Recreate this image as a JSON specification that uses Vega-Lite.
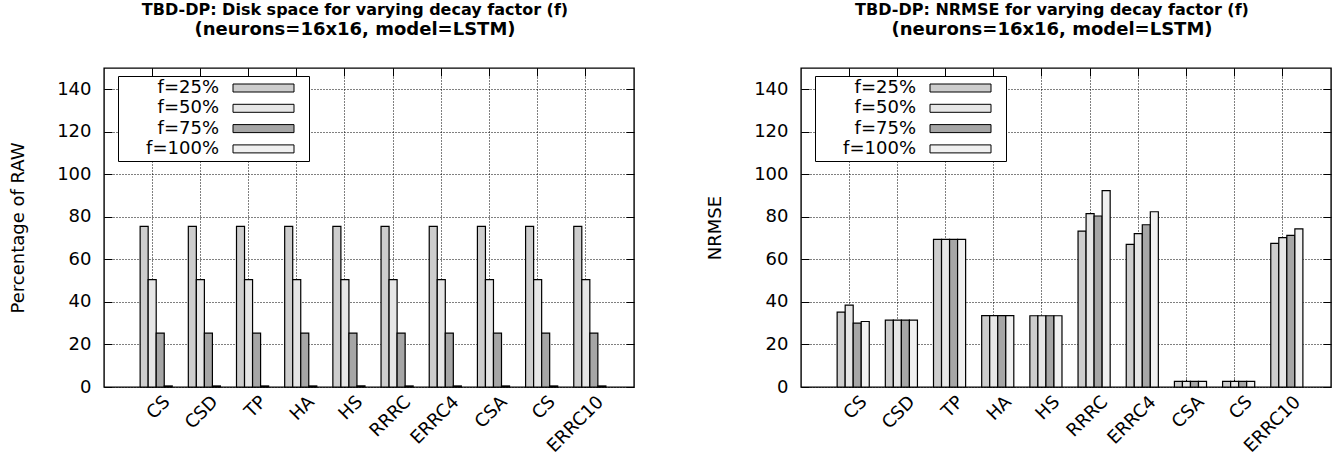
{
  "$schema": "https://vega.github.io/schema/vega-lite/v6.json",
  "padding": {"left": 8, "top": 0, "right": 5, "bottom": 5},
  "background": "white",
  "datasets": {
    "disk": [
      {"g": 0, "f": "f=25%", "v": 75.5}, {"g": 0, "f": "f=50%", "v": 50.5}, {"g": 0, "f": "f=75%", "v": 25.3}, {"g": 0, "f": "f=100%", "v": 0.5},
      {"g": 1, "f": "f=25%", "v": 75.5}, {"g": 1, "f": "f=50%", "v": 50.5}, {"g": 1, "f": "f=75%", "v": 25.3}, {"g": 1, "f": "f=100%", "v": 0.5},
      {"g": 2, "f": "f=25%", "v": 75.5}, {"g": 2, "f": "f=50%", "v": 50.5}, {"g": 2, "f": "f=75%", "v": 25.3}, {"g": 2, "f": "f=100%", "v": 0.5},
      {"g": 3, "f": "f=25%", "v": 75.5}, {"g": 3, "f": "f=50%", "v": 50.5}, {"g": 3, "f": "f=75%", "v": 25.3}, {"g": 3, "f": "f=100%", "v": 0.5},
      {"g": 4, "f": "f=25%", "v": 75.5}, {"g": 4, "f": "f=50%", "v": 50.5}, {"g": 4, "f": "f=75%", "v": 25.3}, {"g": 4, "f": "f=100%", "v": 0.5},
      {"g": 5, "f": "f=25%", "v": 75.5}, {"g": 5, "f": "f=50%", "v": 50.5}, {"g": 5, "f": "f=75%", "v": 25.3}, {"g": 5, "f": "f=100%", "v": 0.5},
      {"g": 6, "f": "f=25%", "v": 75.5}, {"g": 6, "f": "f=50%", "v": 50.5}, {"g": 6, "f": "f=75%", "v": 25.3}, {"g": 6, "f": "f=100%", "v": 0.5},
      {"g": 7, "f": "f=25%", "v": 75.5}, {"g": 7, "f": "f=50%", "v": 50.5}, {"g": 7, "f": "f=75%", "v": 25.3}, {"g": 7, "f": "f=100%", "v": 0.5},
      {"g": 8, "f": "f=25%", "v": 75.5}, {"g": 8, "f": "f=50%", "v": 50.5}, {"g": 8, "f": "f=75%", "v": 25.3}, {"g": 8, "f": "f=100%", "v": 0.5},
      {"g": 9, "f": "f=25%", "v": 75.5}, {"g": 9, "f": "f=50%", "v": 50.5}, {"g": 9, "f": "f=75%", "v": 25.3}, {"g": 9, "f": "f=100%", "v": 0.5}
    ],
    "nrmse": [
      {"g": 0, "f": "f=25%", "v": 35.2}, {"g": 0, "f": "f=50%", "v": 38.5}, {"g": 0, "f": "f=75%", "v": 30.0}, {"g": 0, "f": "f=100%", "v": 30.8},
      {"g": 1, "f": "f=25%", "v": 31.4}, {"g": 1, "f": "f=50%", "v": 31.4}, {"g": 1, "f": "f=75%", "v": 31.4}, {"g": 1, "f": "f=100%", "v": 31.4},
      {"g": 2, "f": "f=25%", "v": 69.4}, {"g": 2, "f": "f=50%", "v": 69.4}, {"g": 2, "f": "f=75%", "v": 69.4}, {"g": 2, "f": "f=100%", "v": 69.4},
      {"g": 3, "f": "f=25%", "v": 33.6}, {"g": 3, "f": "f=50%", "v": 33.6}, {"g": 3, "f": "f=75%", "v": 33.6}, {"g": 3, "f": "f=100%", "v": 33.6},
      {"g": 4, "f": "f=25%", "v": 33.5}, {"g": 4, "f": "f=50%", "v": 33.5}, {"g": 4, "f": "f=75%", "v": 33.5}, {"g": 4, "f": "f=100%", "v": 33.5},
      {"g": 5, "f": "f=25%", "v": 73.3}, {"g": 5, "f": "f=50%", "v": 81.5}, {"g": 5, "f": "f=75%", "v": 80.4}, {"g": 5, "f": "f=100%", "v": 92.3},
      {"g": 6, "f": "f=25%", "v": 67.1}, {"g": 6, "f": "f=50%", "v": 72.1}, {"g": 6, "f": "f=75%", "v": 76.3}, {"g": 6, "f": "f=100%", "v": 82.4},
      {"g": 7, "f": "f=25%", "v": 2.6}, {"g": 7, "f": "f=50%", "v": 2.6}, {"g": 7, "f": "f=75%", "v": 2.6}, {"g": 7, "f": "f=100%", "v": 2.6},
      {"g": 8, "f": "f=25%", "v": 2.6}, {"g": 8, "f": "f=50%", "v": 2.6}, {"g": 8, "f": "f=75%", "v": 2.6}, {"g": 8, "f": "f=100%", "v": 2.6},
      {"g": 9, "f": "f=25%", "v": 67.5}, {"g": 9, "f": "f=50%", "v": 70.2}, {"g": 9, "f": "f=75%", "v": 71.3}, {"g": 9, "f": "f=100%", "v": 74.4}
    ]
  },
  "spacing": 69,
  "resolve": {"scale": {"fill": "independent"}, "legend": {"fill": "independent"}},
  "hconcat": [
    {
      "width": 530,
      "height": 319,
      "data": {"name": "disk"},
      "title": {"text": "TBD-DP: Disk space for varying decay factor (f)", "subtitle": "(neurons=16x16, model=LSTM)"},
      "layer": [
        {
          "mark": {"type": "bar", "stroke": "black", "strokeWidth": 1.2},
          "encoding": {
            "x": {
              "field": "g", "type": "ordinal",
              "scale": {"type": "band", "paddingInner": 0.3333, "paddingOuter": 0.6667, "align": 0.5625},
              "axis": {"orient": "bottom", "title": null, "grid": true, "bandPosition": 0.375,
                "labelExpr": "['CS','CSD','TP','HA','HS','RRRC','ERRC4','CSA','CS','ERRC10'][datum.value]",
                "labelAngle": 315, "labelAlign": "right", "labelBaseline": "middle", "labelOffset": 11, "labelPadding": 20,
                "labelOverlap": false, "labelBound": false, "labelFlush": false}
            },
            "xOffset": {"field": "f", "type": "nominal", "sort": ["f=25%", "f=50%", "f=75%", "f=100%"], "scale": {"paddingInner": 0, "paddingOuter": 0}},
            "y": {
              "field": "v", "type": "quantitative",
              "scale": {"domain": [0, 150], "nice": false, "zero": true},
              "axis": {"orient": "left", "title": "Percentage of RAW", "values": [0, 20, 40, 60, 80, 100, 120, 140], "grid": true, "titlePadding": 29, "labelPadding": 21}
            },
            "fill": {
              "field": "f", "type": "nominal",
              "scale": {"domain": ["f=25%", "f=50%", "f=75%", "f=100%"], "range": ["#cdcdcd", "#e6e6e6", "#a6a6a6", "#f0f0f0"]},
              "legend": {"title": null, "orient": "none", "legendX": 14, "legendY": 8, "fillColor": "white", "strokeColor": "black", "padding": 3,
                "symbolType": "M-7.625,-1H7.625V1H-7.625ZM9.9,0", "symbolSize": 64, "symbolStrokeColor": "black", "symbolStrokeWidth": 1, "symbolOffset": 133.5,
                "labelAlign": "right", "labelOffset": -53.5, "labelFont": "DejaVu Sans", "labelFontSize": 18, "labelColor": "black", "rowPadding": 2.3}
            }
          }
        },
        {
          "mark": {"type": "point", "opacity": 0},
          "encoding": {
            "x": {"field": "g", "type": "ordinal", "axis": {"orient": "top", "title": null, "labels": false, "grid": false, "bandPosition": 0.375}},
            "y": {"field": "v", "type": "quantitative", "axis": {"orient": "right", "title": null, "labels": false, "grid": false, "values": [0, 20, 40, 60, 80, 100, 120, 140]}}
          }
        }
      ],
      "resolve": {"axis": {"x": "independent", "y": "independent"}}
    },
    {
      "width": 530,
      "height": 319,
      "data": {"name": "nrmse"},
      "title": {"text": "TBD-DP: NRMSE for varying decay factor (f)", "subtitle": "(neurons=16x16, model=LSTM)"},
      "layer": [
        {
          "mark": {"type": "bar", "stroke": "black", "strokeWidth": 1.2},
          "encoding": {
            "x": {
              "field": "g", "type": "ordinal",
              "scale": {"type": "band", "paddingInner": 0.3333, "paddingOuter": 0.6667, "align": 0.5625},
              "axis": {"orient": "bottom", "title": null, "grid": true, "bandPosition": 0.375,
                "labelExpr": "['CS','CSD','TP','HA','HS','RRRC','ERRC4','CSA','CS','ERRC10'][datum.value]",
                "labelAngle": 315, "labelAlign": "right", "labelBaseline": "middle", "labelOffset": 11, "labelPadding": 20,
                "labelOverlap": false, "labelBound": false, "labelFlush": false}
            },
            "xOffset": {"field": "f", "type": "nominal", "sort": ["f=25%", "f=50%", "f=75%", "f=100%"], "scale": {"paddingInner": 0, "paddingOuter": 0}},
            "y": {
              "field": "v", "type": "quantitative",
              "scale": {"domain": [0, 150], "nice": false, "zero": true},
              "axis": {"orient": "left", "title": "NRMSE", "values": [0, 20, 40, 60, 80, 100, 120, 140], "grid": true, "titlePadding": 29, "labelPadding": 21}
            },
            "fill": {
              "field": "f", "type": "nominal",
              "scale": {"domain": ["f=25%", "f=50%", "f=75%", "f=100%"], "range": ["#cdcdcd", "#e6e6e6", "#a6a6a6", "#f0f0f0"]},
              "legend": {"title": null, "orient": "none", "legendX": 14, "legendY": 8, "fillColor": "white", "strokeColor": "black", "padding": 3,
                "symbolType": "M-7.625,-1H7.625V1H-7.625ZM9.9,0", "symbolSize": 64, "symbolStrokeColor": "black", "symbolStrokeWidth": 1, "symbolOffset": 133.5,
                "labelAlign": "right", "labelOffset": -53.5, "labelFont": "DejaVu Sans", "labelFontSize": 18, "labelColor": "black", "rowPadding": 2.3}
            }
          }
        },
        {
          "mark": {"type": "point", "opacity": 0},
          "encoding": {
            "x": {"field": "g", "type": "ordinal", "axis": {"orient": "top", "title": null, "labels": false, "grid": false, "bandPosition": 0.375}},
            "y": {"field": "v", "type": "quantitative", "axis": {"orient": "right", "title": null, "labels": false, "grid": false, "values": [0, 20, 40, 60, 80, 100, 120, 140]}}
          }
        }
      ],
      "resolve": {"axis": {"x": "independent", "y": "independent"}}
    }
  ],
  "config": {
    "font": "DejaVu Sans",
    "view": {"stroke": "black", "strokeWidth": 1.4},
    "axis": {
      "domain": false, "labelFont": "DejaVu Sans", "labelFontSize": 18, "labelColor": "black",
      "titleFont": "DejaVu Sans", "titleFontSize": 18, "titleFontWeight": "normal", "titleColor": "black",
      "tickColor": "black", "tickSize": -8, "tickWidth": 1,
      "gridColor": "black", "gridDash": [1, 2], "gridOpacity": 1, "gridWidth": 1
    },
    "title": {
      "font": "DejaVu Sans", "fontSize": 16, "fontWeight": "bold", "color": "black",
      "subtitleFont": "DejaVu Sans", "subtitleFontSize": 18, "subtitleFontWeight": "bold", "subtitleColor": "black",
      "subtitlePadding": 0, "anchor": "middle", "frame": "group", "offset": 29, "dx": -14
    }
  }
}
